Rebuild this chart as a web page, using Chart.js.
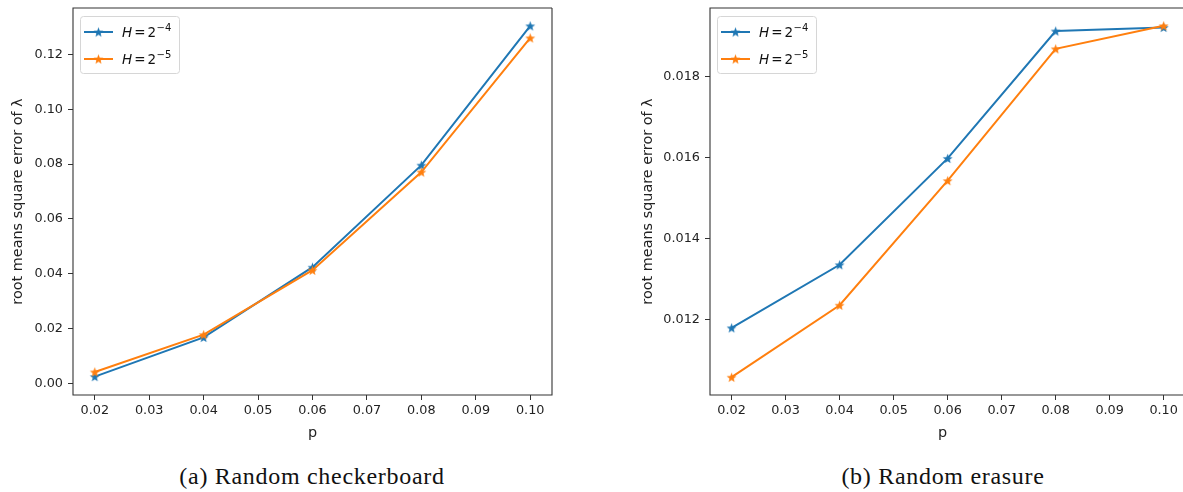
<!DOCTYPE html>
<html>
<head>
<meta charset="utf-8">
<script src="https://cdn.jsdelivr.net/npm/chart.js@4.4.0/dist/chart.umd.min.js"></script>
<style>
  body { margin: 0; width: 1183px; height: 492px; overflow: hidden; background: #fff; position: relative; }
  canvas { position: absolute; top: 0; }
  .cap { position: absolute; top: 463px; width: 400px; text-align: center; font-family: 'Liberation Serif', serif; font-size: 24px; letter-spacing: 0.7px; color: #111; }
</style>
</head>
<body>
<canvas id="chartA" width="560" height="450" style="left:0"></canvas>
<canvas id="chartB" width="583" height="450" style="left:600px"></canvas>
<div class="cap" style="left:112px">(a) Random checkerboard</div>
<div class="cap" style="left:743px">(b) Random erasure</div>
<script>
// p values (x)
const pValues = [0.02, 0.04, 0.06, 0.08, 0.10];
const xTicks = [0.02, 0.03, 0.04, 0.05, 0.06, 0.07, 0.08, 0.09, 0.10];

// (a) random checkerboard
const checkerH4 = [0.0025, 0.0168, 0.0424, 0.0796, 0.1304];
const checkerH5 = [0.0042, 0.0178, 0.0413, 0.0771, 0.1260];
const checkerTicks = [0.00, 0.02, 0.04, 0.06, 0.08, 0.10, 0.12];

// (b) random erasure
const erasureH4 = [0.01179, 0.01335, 0.01598, 0.01913, 0.01922];
const erasureH5 = [0.01057, 0.01235, 0.01543, 0.01869, 0.01926];
const erasureTicks = [0.012, 0.014, 0.016, 0.018];

// right panel is cut off by the picture edge, so its visible x range ends early
const xMinAll = 0.016;
const xMaxA = 0.104;
const xMaxB = 0.1021;

const seriesExp = ['\u22124', '\u22125'];
const colors = ['#1f77b4', '#ff7f0e'];
const FONT = 'DejaVu Sans';

function makeStar(color) {
    const c = document.createElement('canvas');
    const s = 13, r = 5.2;
    c.width = s; c.height = s;
    const g = c.getContext('2d');
    g.beginPath();
    for (let i = 0; i < 10; i++) {
        const rr = i % 2 ? r * 0.42 : r;
        const a = -Math.PI / 2 + i * Math.PI / 5;
        g.lineTo(s / 2 + rr * Math.cos(a), s / 2 + 0.5 + rr * Math.sin(a));
    }
    g.closePath();
    g.fillStyle = color;
    g.fill();
    return c;
}
const stars = colors.map(makeStar);

// spines + matplotlib style legend
const framePlugin = {
    id: 'frame',
    afterDatasetsDraw(chart, args, opts) {
        const {ctx, chartArea: a} = chart;
        const open = opts.right === false;
        const rx = open ? chart.width + 2 : a.right;
        ctx.save();
        ctx.strokeStyle = '#333';
        ctx.lineWidth = 1.1;
        ctx.beginPath();
        ctx.moveTo(rx, a.top);
        ctx.lineTo(a.left, a.top);
        ctx.lineTo(a.left, a.bottom);
        ctx.lineTo(rx, a.bottom);
        if (!open) ctx.lineTo(rx, a.top);
        ctx.stroke();

        const bx = a.left + 7, by = a.top + 8, bw = 99, bh = 57;
        ctx.beginPath();
        ctx.roundRect(bx + 0.5, by + 0.5, bw, bh, 3);
        ctx.fillStyle = 'rgba(255,255,255,0.85)';
        ctx.fill();
        ctx.strokeStyle = '#d6d6d6';
        ctx.lineWidth = 1;
        ctx.stroke();

        for (let i = 0; i < 2; i++) {
            const y = by + 16 + i * 27;
            ctx.beginPath();
            ctx.moveTo(bx + 4, y);
            ctx.lineTo(bx + 33, y);
            ctx.strokeStyle = colors[i];
            ctx.lineWidth = 2;
            ctx.stroke();
            ctx.drawImage(stars[i], bx + 18.5 - 6.5, y - 6.5);

            ctx.fillStyle = '#111';
            ctx.textBaseline = 'alphabetic';
            let x = bx + 42;
            ctx.font = 'italic 13.5px ' + FONT;
            ctx.fillText('H', x, y + 5);
            x += ctx.measureText('H').width + 2;
            ctx.font = '13.5px ' + FONT;
            ctx.fillText('=', x, y + 5);
            x += ctx.measureText('=').width + 2;
            ctx.fillText('2', x, y + 5);
            x += ctx.measureText('2').width + 0.5;
            ctx.font = '10px ' + FONT;
            ctx.fillText(seriesExp[i], x, y - 1);
        }
        ctx.restore();
    }
};

function makeChart(id, h4, h5, xMax, yMin, yMax, yTicks, digits, yWidth, titlePad, rightPad, rightSpine) {
    const toPts = arr => pValues.map((p, i) => ({x: p, y: arr[i]}));
    return new Chart(document.getElementById(id), {
        type: 'line',
        data: {
            datasets: [
                {data: toPts(h4), borderColor: colors[0], backgroundColor: colors[0], borderWidth: 2,
                 pointStyle: stars[0], pointRadius: 6, tension: 0, order: 1},
                {data: toPts(h5), borderColor: colors[1], backgroundColor: colors[1], borderWidth: 2,
                 pointStyle: stars[1], pointRadius: 6, tension: 0, order: 0}
            ]
        },
        options: {
            responsive: false,
            animation: false,
            events: [],
            layout: {padding: {top: 5, right: rightPad, left: 0, bottom: 0}},
            plugins: {legend: {display: false}, tooltip: {enabled: false}, frame: {right: rightSpine}},
            scales: {
                x: {
                    type: 'linear', min: xMinAll, max: xMax,
                    afterBuildTicks: s => { s.ticks = xTicks.map(v => ({value: v})); },
                    afterFit: s => { s.height = 55; s.paddingLeft = 0; s.paddingRight = 0; },
                    ticks: {callback: v => v.toFixed(2), color: '#222', font: {family: FONT, size: 12.8}, padding: 3, maxRotation: 0, autoSkip: false},
                    grid: {drawOnChartArea: false, drawTicks: true, tickLength: 5, color: '#333'},
                    border: {display: false},
                    title: {display: true, text: 'p', color: '#222', font: {family: FONT, size: 14.4}, padding: {top: 0, bottom: 8}}
                },
                y: {
                    type: 'linear', min: yMin, max: yMax,
                    afterBuildTicks: s => { s.ticks = yTicks.map(v => ({value: v})); },
                    afterFit: s => { s.width = yWidth; s.paddingTop = 0; s.paddingBottom = 0; },
                    ticks: {callback: v => v.toFixed(digits), color: '#222', font: {family: FONT, size: 12.8}, padding: 5, autoSkip: false},
                    grid: {drawOnChartArea: false, drawTicks: true, tickLength: 5, color: '#333'},
                    border: {display: false},
                    title: {display: true, text: 'root means square error of \u03bb', color: '#222', font: {family: FONT, size: 14.4}, padding: {top: titlePad, bottom: 0}}
                }
            }
        },
        plugins: [framePlugin]
    });
}

makeChart('chartA', checkerH4, checkerH5, xMaxA, -0.0042, 0.1369, checkerTicks, 2, 73, 9.4, 4, true);
makeChart('chartB', erasureH4, erasureH5, xMaxB, 0.01013, 0.0197, erasureTicks, 3, 110, 39.4, 0, false);
</script>
</body>
</html>
